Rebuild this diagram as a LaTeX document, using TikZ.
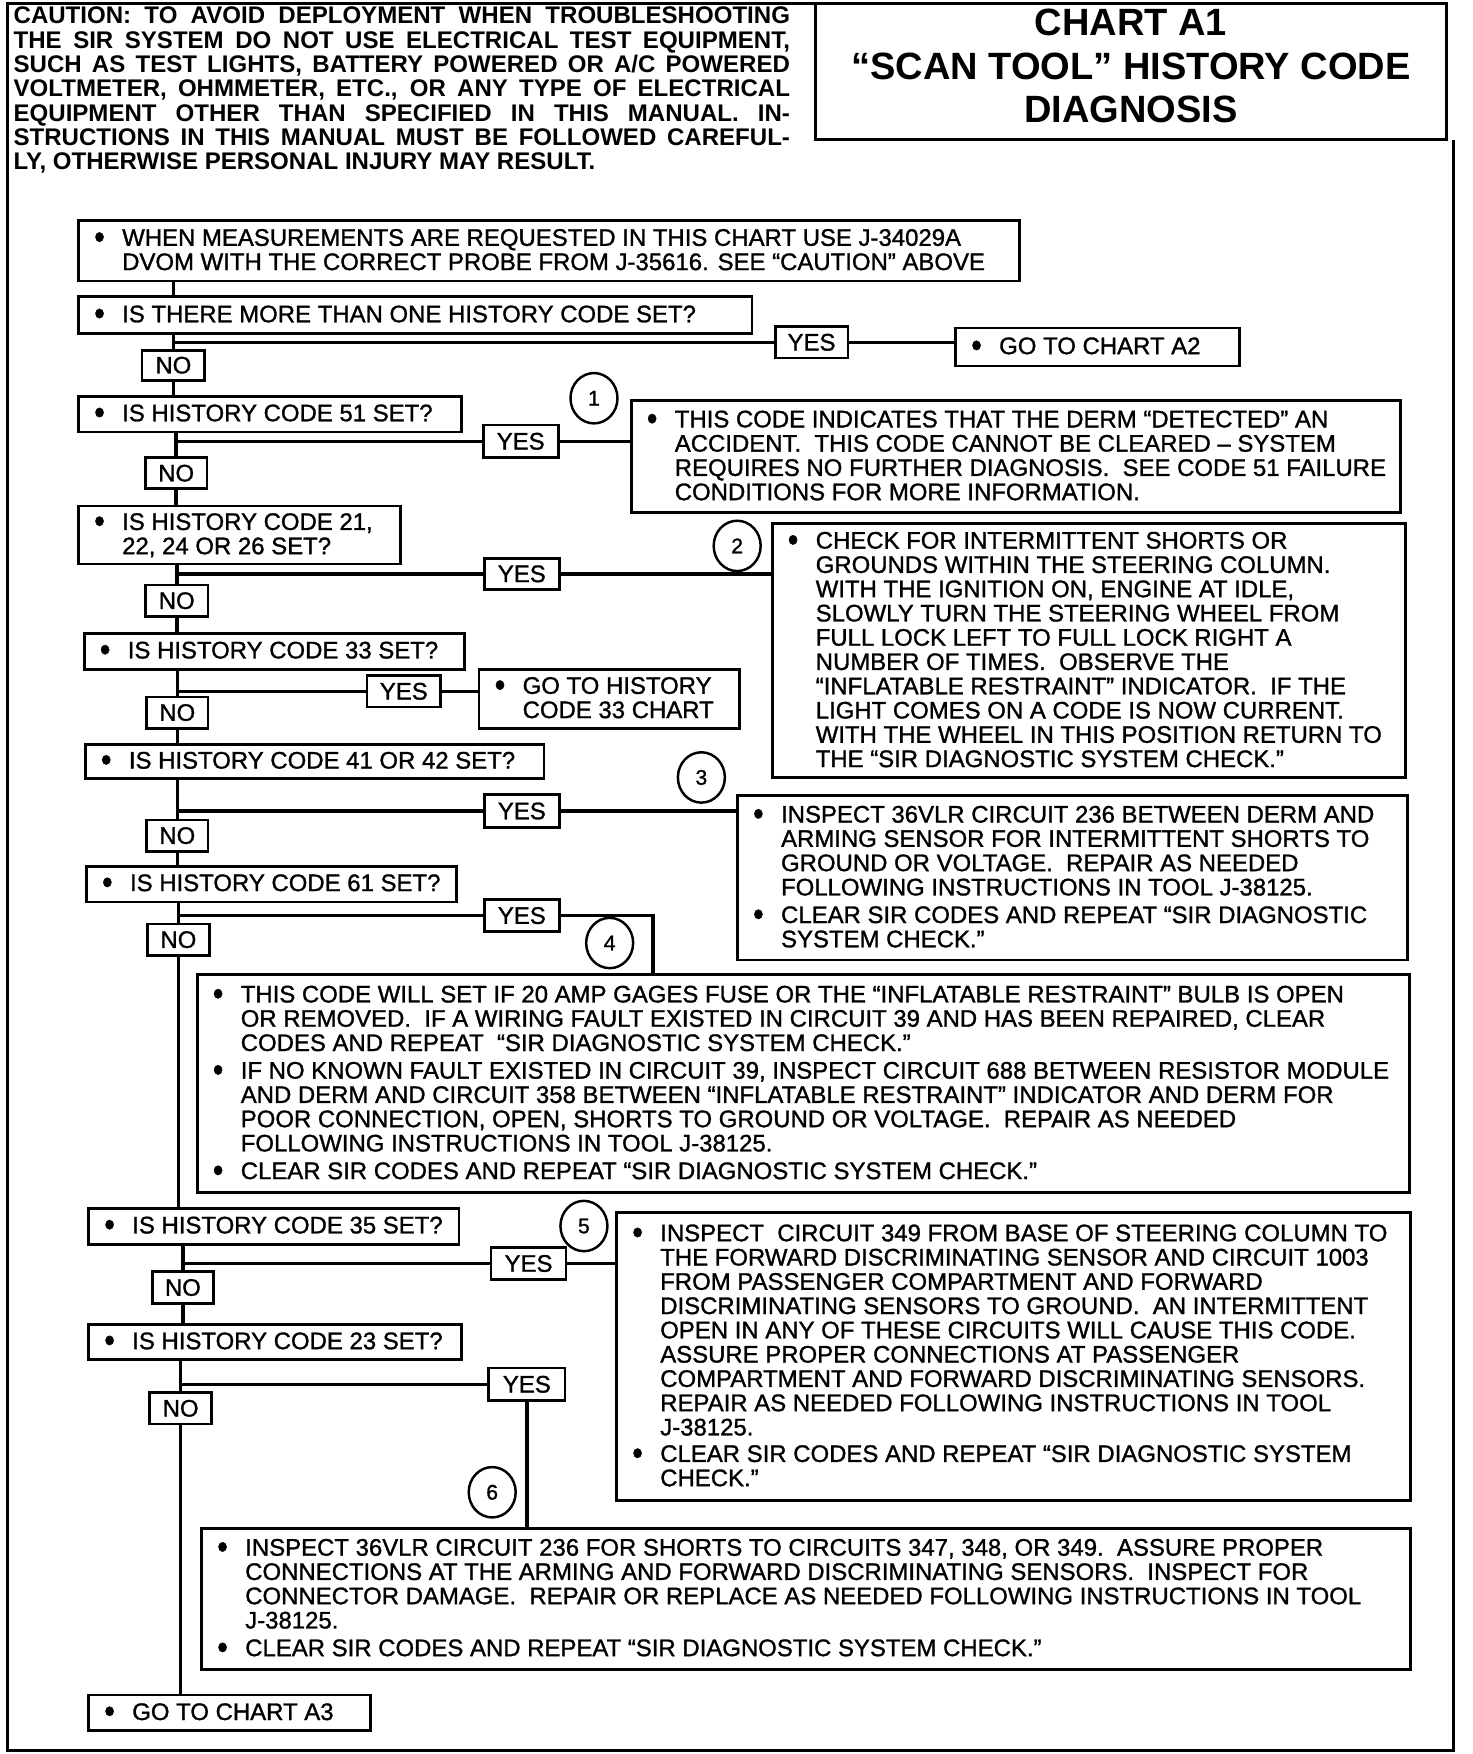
\documentclass[tikz,border=0pt]{standalone}
\usepackage{fontspec}
\usepackage{graphicx}
\setmainfont{Liberation Sans}
\newfontfamily\bodyface{Liberation Sans}[FakeBold=1.2]
\usetikzlibrary{shapes.geometric}
\newcommand\bodyfont{\bodyface\fontsize{21.4}{21.7}\selectfont}
\newcommand\bul{\raisebox{-2.5pt}{\scalebox{1}[1.15]{\fontsize{27}{27}\selectfont\textbullet}}}
\newcommand\bl{\makebox[25pt][l]{\bul}}
\newcommand\tbox[6]{\node[box, minimum width=#4pt, minimum height=#5pt] (#1) at (#2,#3) {\makebox[\dimexpr #4pt-28pt\relax][l]{\raisebox{-2pt}[\height][\depth]{\begin{tabular}{@{}l@{}l@{}}#6\end{tabular}}}};}
\begin{document}
\begin{tikzpicture}[x=1pt,y=-1pt,
  box/.style={draw, line width=2.5pt, anchor=north west, inner xsep=14pt, inner ysep=1pt, font=\bodyfont, fill=white},
  lbl/.style={draw, line width=2.5pt, inner sep=0pt, font=\bodyfont, fill=white},
  circ/.style={ellipse, draw, line width=2.2pt, minimum width=42pt, minimum height=45pt, inner sep=0pt, font=\bodyface\fontsize{19}{19}\selectfont},
  conn/.style={line width=3.2pt},
  frame/.style={line width=2.6pt}]
\useasboundingbox (0,0) rectangle (1316,1568);

% frame and title
\draw[frame] (729,3) -- (7,3) -- (7,1565) -- (1299,1565) -- (1299,125);
\draw[frame] (729,3) rectangle (1293,125);
\node[font=\bfseries\fontsize{34}{39}\selectfont, align=center, inner sep=0pt] (title) at (1011,59)
  {CHART A1\\“SCAN TOOL” HISTORY CODE\\DIAGNOSIS};
\node[anchor=north west, inner sep=0pt, font=\bfseries\fontsize{21.5}{21.6}\selectfont] (caution) at (12,6)
  {\begin{tabular}{@{}l@{}}
  \makebox[694pt][s]{CAUTION: TO AVOID DEPLOYMENT WHEN TROUBLESHOOTING}\\
  \makebox[694pt][s]{THE SIR SYSTEM DO NOT USE ELECTRICAL TEST EQUIPMENT,}\\
  \makebox[694pt][s]{SUCH AS TEST LIGHTS, BATTERY POWERED OR A/C POWERED}\\
  \makebox[694pt][s]{VOLTMETER, OHMMETER, ETC., OR ANY TYPE OF ELECTRICAL}\\
  \makebox[694pt][s]{EQUIPMENT OTHER THAN SPECIFIED IN THIS MANUAL. IN-}\\
  \makebox[694pt][s]{STRUCTIONS IN THIS MANUAL MUST BE FOLLOWED CAREFUL-}\\
  LY, OTHERWISE PERSONAL INJURY MAY RESULT.
  \end{tabular}};

% left column boxes
\tbox{m}{69}{196}{841}{54}{\bl & WHEN MEASUREMENTS ARE REQUESTED IN THIS CHART USE J-34029A\\ & DVOM WITH THE CORRECT PROBE FROM J-35616. SEE “CAUTION” ABOVE}
\tbox{q1}{69}{264}{602}{33}{\bl & IS THERE MORE THAN ONE HISTORY CODE SET?}
\tbox{a2}{853}{292}{254}{34}{\bl & GO TO CHART A2}
\tbox{q2}{69}{353}{342}{32}{\bl & IS HISTORY CODE 51 SET?}
\tbox{r1}{563}{357}{688}{100}{\bl & THIS CODE INDICATES THAT THE DERM “DETECTED” AN\\
 & ACCIDENT.\ \ THIS CODE CANNOT BE CLEARED – SYSTEM\\
 & REQUIRES NO FURTHER DIAGNOSIS.\ \ SEE CODE 51 FAILURE\\
 & CONDITIONS FOR MORE INFORMATION.}
\tbox{q3}{69}{451}{288}{52}{\bl & IS HISTORY CODE 21,\\ & 22, 24 OR 26 SET?}
\tbox{r2}{689}{467}{566}{227}{\bl & CHECK FOR INTERMITTENT SHORTS OR\\
 & GROUNDS WITHIN THE STEERING COLUMN.\\
 & WITH THE IGNITION ON, ENGINE AT IDLE,\\
 & SLOWLY TURN THE STEERING WHEEL FROM\\
 & FULL LOCK LEFT TO FULL LOCK RIGHT A\\
 & NUMBER OF TIMES.\ \ OBSERVE THE\\
 & “INFLATABLE RESTRAINT” INDICATOR.\ \ IF THE\\
 & LIGHT COMES ON A CODE IS NOW CURRENT.\\
 & WITH THE WHEEL IN THIS POSITION RETURN TO\\
 & THE “SIR DIAGNOSTIC SYSTEM CHECK.”}
\tbox{q4}{74}{565}{340}{32}{\bl & IS HISTORY CODE 33 SET?}
\tbox{r3}{427}{597}{233}{53}{\bl & GO TO HISTORY\\ & CODE 33 CHART}
\tbox{q5}{75}{664}{410}{31}{\bl & IS HISTORY CODE 41 OR 42 SET?}
\tbox{r4}{658}{710}{599}{147}{\bl & INSPECT 36VLR CIRCUIT 236 BETWEEN DERM AND\\
 & ARMING SENSOR FOR INTERMITTENT SHORTS TO\\
 & GROUND OR VOLTAGE.\ \ REPAIR AS NEEDED\\
 & FOLLOWING INSTRUCTIONS IN TOOL J-38125.\\[3pt]
 \bl & CLEAR SIR CODES AND REPEAT “SIR DIAGNOSTIC\\
 & SYSTEM CHECK.”}
\tbox{q6}{76}{773}{331}{32}{\bl & IS HISTORY CODE 61 SET?}
\tbox{r5}{175}{870}{1084}{195}{\bl & THIS CODE WILL SET IF 20 AMP GAGES FUSE OR THE “INFLATABLE RESTRAINT” BULB IS OPEN\\
 & OR REMOVED.\ \ IF A WIRING FAULT EXISTED IN CIRCUIT 39 AND HAS BEEN REPAIRED, CLEAR\\
 & CODES AND REPEAT\ \ “SIR DIAGNOSTIC SYSTEM CHECK.”\\[3pt]
 \bl & IF NO KNOWN FAULT EXISTED IN CIRCUIT 39, INSPECT CIRCUIT 688 BETWEEN RESISTOR MODULE\\
 & AND DERM AND CIRCUIT 358 BETWEEN “INFLATABLE RESTRAINT” INDICATOR AND DERM FOR\\
 & POOR CONNECTION, OPEN, SHORTS TO GROUND OR VOLTAGE.\ \ REPAIR AS NEEDED\\
 & FOLLOWING INSTRUCTIONS IN TOOL J-38125.\\[3pt]
 \bl & CLEAR SIR CODES AND REPEAT “SIR DIAGNOSTIC SYSTEM CHECK.”}
\tbox{q7}{78}{1079}{331}{32}{\bl & IS HISTORY CODE 35 SET?}
\tbox{r6}{550}{1083}{710}{257}{\bl & INSPECT\ \ CIRCUIT 349 FROM BASE OF STEERING COLUMN TO\\
 & THE FORWARD DISCRIMINATING SENSOR AND CIRCUIT 1003\\
 & FROM PASSENGER COMPARTMENT AND FORWARD\\
 & DISCRIMINATING SENSORS TO GROUND.\ \ AN INTERMITTENT\\
 & OPEN IN ANY OF THESE CIRCUITS WILL CAUSE THIS CODE.\\
 & ASSURE PROPER CONNECTIONS AT PASSENGER\\
 & COMPARTMENT AND FORWARD DISCRIMINATING SENSORS.\\
 & REPAIR AS NEEDED FOLLOWING INSTRUCTIONS IN TOOL\\
 & J-38125.\\[2pt]
 \bl & CLEAR SIR CODES AND REPEAT “SIR DIAGNOSTIC SYSTEM\\
 & CHECK.”}
\tbox{q8}{78}{1183}{333}{31}{\bl & IS HISTORY CODE 23 SET?}
\tbox{r7}{179}{1365}{1081}{126}{\bl & INSPECT 36VLR CIRCUIT 236 FOR SHORTS TO CIRCUITS 347, 348, OR 349.\ \ ASSURE PROPER\\
 & CONNECTIONS AT THE ARMING AND FORWARD DISCRIMINATING SENSORS.\ \ INSPECT FOR\\
 & CONNECTOR DAMAGE.\ \ REPAIR OR REPLACE AS NEEDED FOLLOWING INSTRUCTIONS IN TOOL\\
 & J-38125.\\[3pt]
 \bl & CLEAR SIR CODES AND REPEAT “SIR DIAGNOSTIC SYSTEM CHECK.”}
\tbox{fin}{78}{1514}{252}{32}{\bl & GO TO CHART A3}

% YES / NO labels
\node[lbl, minimum width=65pt, minimum height=28pt] (yes1) at (725.5,306) {YES};
\node[lbl, minimum width=56pt, minimum height=27pt] (no1) at (155,326.5) {NO};
\node[lbl, minimum width=67pt, minimum height=29pt] (yes2) at (465.5,394.5) {YES};
\node[lbl, minimum width=55pt, minimum height=28pt] (no2) at (157.5,423) {NO};
\node[lbl, minimum width=67pt, minimum height=28pt] (yes3) at (466.5,513) {YES};
\node[lbl, minimum width=56pt, minimum height=28pt] (no3) at (158,537) {NO};
\node[lbl, minimum width=66pt, minimum height=28pt] (yes4) at (361,618) {YES};
\node[lbl, minimum width=55pt, minimum height=28pt] (no4) at (158.5,637) {NO};
\node[lbl, minimum width=67pt, minimum height=30pt] (yes5) at (466.5,725) {YES};
\node[lbl, minimum width=55pt, minimum height=28pt] (no5) at (158.5,747) {NO};
\node[lbl, minimum width=67pt, minimum height=29pt] (yes6) at (466.5,818.5) {YES};
\node[lbl, minimum width=55pt, minimum height=28pt] (no6) at (159.5,840) {NO};
\node[lbl, minimum width=67pt, minimum height=29pt] (yes7) at (472.5,1129.5) {YES};
\node[lbl, minimum width=55pt, minimum height=28pt] (no7) at (163.5,1151) {NO};
\node[lbl, minimum width=68pt, minimum height=29pt] (yes8) at (471,1237.5) {YES};
\node[lbl, minimum width=55pt, minimum height=28pt] (no8) at (161.5,1259) {NO};

% numbered circles
\node[circ] (c1) at (531,356) {1};
\node[circ] (c2) at (659,488) {2};
\node[circ] (c3) at (627,695) {3};
\node[circ] (c4) at (545,843) {4};
\node[circ] (c5) at (522,1096) {5};
\node[circ] (c6) at (440,1334) {6};

% junctions
\coordinate (j1) at (no1 |- yes1);
\coordinate (j2) at (no2 |- yes2);
\coordinate (j3) at (no3 |- yes3);
\coordinate (j4) at (no4 |- yes4);
\coordinate (j5) at (no5 |- yes5);
\coordinate (j6) at (no6 |- yes6);
\coordinate (j7) at (no7 |- yes7);
\coordinate (j8) at (no8 |- yes8);
\coordinate (k6) at (584,818.5);

% trunk
\draw[conn] (m.south -| no1) -- (q1.north -| no1);
\draw[conn] (q1.south -| no1) -- (no1.north);
\draw[conn] (no1.south) -- (q2.north -| no1);
\draw[conn] (q2.south -| no2) -- (no2.north);
\draw[conn] (no2.south) -- (q3.north -| no2);
\draw[conn] (q3.south -| no3) -- (no3.north);
\draw[conn] (no3.south) -- (q4.north -| no3);
\draw[conn] (q4.south -| no4) -- (no4.north);
\draw[conn] (no4.south) -- (q5.north -| no4);
\draw[conn] (q5.south -| no5) -- (no5.north);
\draw[conn] (no5.south) -- (q6.north -| no5);
\draw[conn] (q6.south -| no6) -- (no6.north);
\draw[conn] (no6.south) -- (q7.north -| no6);
\draw[conn] (q7.south -| no7) -- (no7.north);
\draw[conn] (no7.south) -- (q8.north -| no7);
\draw[conn] (q8.south -| no8) -- (no8.north);
\draw[conn] (no8.south) -- (fin.north -| no8);

% branches
\draw[conn] (j1) -- (yes1.west);
\draw[conn] (yes1.east) -- (yes1.east -| a2.west);
\draw[conn] (j2) -- (yes2.west);
\draw[conn] (yes2.east) -- (yes2.east -| r1.west);
\draw[conn] (j3) -- (yes3.west);
\draw[conn] (yes3.east) -- (yes3.east -| r2.west);
\draw[conn] (j4) -- (yes4.west);
\draw[conn] (yes4.east) -- (yes4.east -| r3.west);
\draw[conn] (j5) -- (yes5.west);
\draw[conn] (yes5.east) -- (yes5.east -| r4.west);
\draw[conn] (j6) -- (yes6.west);
\draw[conn] (yes6.east) -- (k6) -- (k6 |- r5.north);
\draw[conn] (j7) -- (yes7.west);
\draw[conn] (yes7.east) -- (yes7.east -| r6.west);
\draw[conn] (j8) -- (yes8.west);
\draw[conn] (yes8.south) -- (yes8.south |- r7.north);
\end{tikzpicture}
\end{document}
